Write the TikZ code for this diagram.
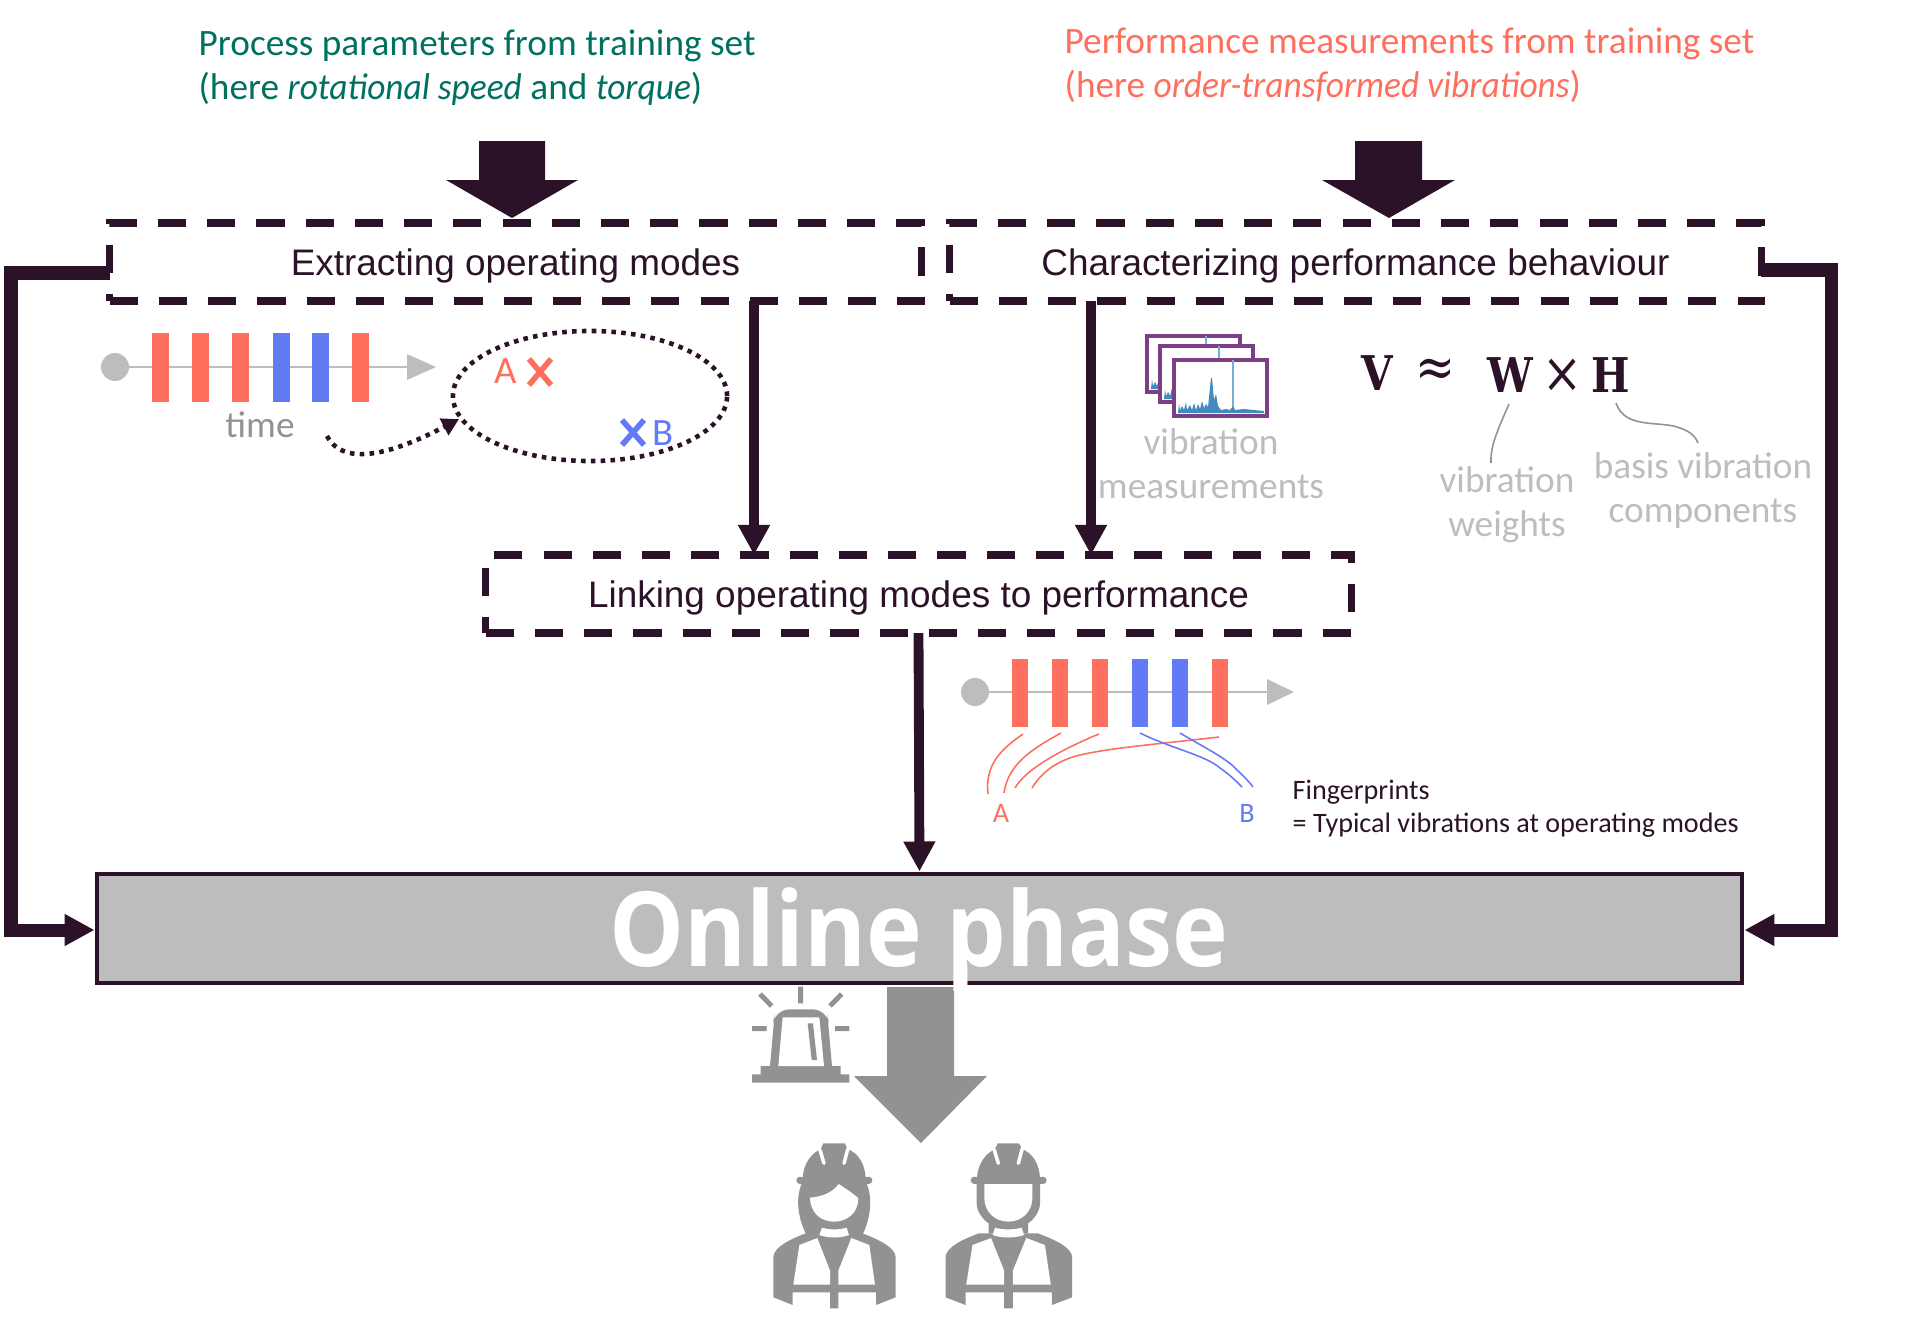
\documentclass[tikz,border=0pt]{standalone}
\usepackage{fontspec}
\setmainfont{Carlito}[ItalicFeatures={FakeStretch=0.95}]
\newfontfamily\boxfont{Liberation Sans}
\newfontfamily\onlinefont[FakeStretch=0.91]{Open Sans}
\newfontfamily\formfont[FakeStretch=0.85]{DejaVu Serif}
\usetikzlibrary{arrows.meta,positioning,shapes.geometric,calc}
\definecolor{darkPlum}{RGB}{44,18,41}
\definecolor{modeOrange}{RGB}{255,111,94}
\definecolor{modeBlue}{RGB}{98,123,245}
\definecolor{paramGreen}{RGB}{0,112,96}
\definecolor{softGrey}{RGB}{189,189,189}
\definecolor{midGrey}{RGB}{146,146,146}
\definecolor{framePurple}{RGB}{123,63,134}
\definecolor{specBlue}{RGB}{31,119,180}
\tikzset{
  stepbox/.style={
    rectangle, draw=darkPlum, line width=2.1pt, dash pattern=on 8pt off 6pt,
    text=darkPlum, align=center, inner sep=0pt, outer sep=0pt, text depth=0pt, font=\boxfont\fontsize{10.5}{13}\selectfont},
  onlinebox/.style={
    rectangle, draw=darkPlum, line width=1.4pt, fill=softGrey, inner sep=0pt},
  flowline/.style={-{Triangle[length=3mm,width=3mm]}, line width=2.8pt, draw=darkPlum},
  sideline/.style={flowline, line width=3.7pt},
  caption/.style={align=left, anchor=west, inner sep=0pt},
  greylabel/.style={align=center, text=softGrey, font=\fontsize{10.6}{12.5}\selectfont},
  bigarrow/.style={fill=darkPlum},
  mathsym/.style={text=darkPlum, inner sep=0pt, font=\formfont\bfseries\fontsize{13.6}{16}\selectfont},
  mathop/.style={text=darkPlum, inner sep=0pt, font=\formfont\fontsize{16}{18}\selectfont},
  thinlink/.style={draw=midGrey, line width=0.45pt},
  frame/.style={draw=framePurple, fill=white, line width=1pt},
  crossline/.style={line width=1.6pt},
  dotline/.style={draw=darkPlum, line width=1.3pt, dash pattern=on 1.3pt off 1.5pt},
  vestbody/.pic={
    \fill[midGrey] (-182,170) -- (-124,193) -- (-124,155) -- (-12,155) -- (-12,203) -- (13,203) -- (13,155)
      -- (126,155) -- (126,193) -- (185,170) -- (185,50) .. controls (185,20) and (130,-5) .. (85,-22)
      -- (-85,-22) .. controls (-130,-5) and (-182,20) .. (-182,50) -- cycle;
    \fill[white] (-104,13) -- (-50,-8) -- (-12,90) -- (-12,132) -- (-122,132) -- cycle;
    \fill[white] (106,13) -- (52,-8) -- (13,90) -- (13,132) -- (123,132) -- cycle;
  },
  hardhat/.pic={
    \fill[midGrey] (-94,-180) .. controls (-94,-235) and (-60,-265) .. (-40,-272)
      -- (-32,-290) -- (32,-290) -- (42,-272) .. controls (70,-262) and (95,-230) .. (95,-180) -- cycle;
    \fill[midGrey] (-100,-190) rectangle (102,-168);
    \fill[midGrey] (-102,-179) circle (11) (104,-179) circle (11);
    \draw[white, line width=1pt, line cap=round] (-42,-270) -- (-30,-230) (42,-275) -- (30,-230);
  }
}
\begin{document}
\begin{tikzpicture}[x=0.01cm,y=-0.01cm]
  \useasboundingbox (0,0) rectangle (1920,1324);

  % headings
  \node[caption, text=paramGreen, font=\fontsize{10.6}{12.6}\selectfont] (paramtext) at (198,67.5)
    {Process parameters from training set\\(here \textit{rotational speed} and \textit{torque})};
  \node[caption, text=modeOrange, font=\fontsize{10.6}{12.6}\selectfont] (perftext) at (1064,65)
    {Performance measurements from training set\\(here \textit{order-transformed vibrations})};

  % boxes
  \node[stepbox, minimum width=8.11cm, minimum height=0.78cm] (modes) at (515.5,262) {Extracting operating modes};
  \node[stepbox, minimum width=8.11cm, minimum height=0.78cm] (perf) at (1355.5,262) {Characterizing performance behaviour};
  \node[stepbox, minimum width=8.65cm, minimum height=0.78cm] (link) at (918.5,594) {Linking operating modes to performance};
  \node[onlinebox, minimum width=16.44cm, minimum height=1.09cm] (online) at (919.5,928.5) {};

  % big arrows
  \fill[bigarrow] (479,141) -- (545,141) -- (545,180) -- (578,180) -- (512,218) -- (446,180) -- (479,180) -- cycle;
  \fill[bigarrow] (1355,141) -- (1422,141) -- (1422,180) -- (1455,180) -- (1389,218) -- (1322,180) -- (1355,180) -- cycle;

  % connectors
  \coordinate (modesout) at (modes.west |- 0,273);
  \coordinate (perfout) at (perf.east |- 0,270);
  \draw[sideline] (modesout) -- (11,273) -- (11,930) -- (online.west |- 0,930);
  \draw[sideline] (perfout) -- (1831,270) -- (1831,930) -- (online.east |- 0,930);
  \draw[flowline] (modes.south -| 754,0) -- (link.north -| 754,0);
  \draw[flowline] (perf.south -| 1091,0) -- (link.north -| 1091,0);
  \draw[flowline] (link.south) -- (online.north);

  % first timeline
  \draw[softGrey, line width=0.8pt] (115,367) -- (410,367);
  \fill[softGrey] (115,367) circle (14);
  \fill[softGrey] (407,354) -- (436,367) -- (407,380) -- cycle;
  \foreach \px/\col in {160.5/modeOrange,200.5/modeOrange,240/modeOrange,281/modeBlue,320.5/modeBlue,360/modeOrange}
    \fill[\col] (\px-8.5,333) rectangle (\px+8.5,402);
  \node[text=midGrey, font=\fontsize{10.6}{12}\selectfont] (timetext) at (260,425) {time};

  % operating modes
  \node[ellipse, dotline, minimum width=2.74cm, minimum height=1.3cm] (cloud) at (590,396) {};
  \coordinate (timeout) at (327,436);
  \draw[dotline, {}-{Triangle[length=1.7mm,width=1.8mm,sep=0pt]}]
    (timeout) .. controls (345,470) and (400,450) .. (cloud.190);
  \node[text=modeOrange, font=\fontsize{11}{13}\selectfont] (labA) at (506,371) {A};
  \draw[modeOrange, crossline] (529,359) -- (551,385) (551,359) -- (529,385);
  \draw[modeBlue, crossline] (622,420) -- (644,445) (644,420) -- (622,445);
  \node[text=modeBlue, font=\fontsize{11}{13}\selectfont] (labB) at (663,433) {B};

  % spectra
  \foreach \fx/\fy in {1147/336,1160/346,1174/360}{
    \begin{scope}[shift={(\fx,\fy)}]
      \draw[frame] (0,0) rectangle (93,56);
      \draw[specBlue!60, line width=0.3pt] (59,0) -- (59,52);
      \fill[specBlue!85] (4,53) -- (5,44) -- (6,50) -- (8,46) -- (10,50) -- (12,42) -- (13,50) -- (16,45) -- (18,50) -- (20,43) -- (22,50)
        -- (24,44) -- (26,49) -- (28,41) -- (30,48) -- (32,44) -- (34,47) -- (37,18) -- (38,18) -- (40,40) -- (42,34) -- (44,46)
        -- (47,50) -- (52,49) -- (56,50) -- (59,46) -- (61,50) -- (70,49) -- (80,50) -- (90,51) -- (90,53) -- cycle;
    \end{scope}
  }

  % text under spectra
  \node[greylabel] (measure) at (1211,464) {vibration\\measurements};

  % formula
  \node[mathsym] (sv) at (1377,373) {V};
  \node[mathop] (sa) at (1436,373) {≈};
  \node[mathsym] (sw) at (1510,375) {W};
  \node[mathop] (sx) at (1563,376) {×};
  \node[mathsym] (sh) at (1611,375) {H};
  \node[greylabel] (wlabel) at (1507,505) {vibration\\weights};
  \node[greylabel] (hlabel) at (1703,491) {basis vibration\\components};
  \draw[thinlink] (1509,404) .. controls (1500,425) and (1490,445) .. (1491,463);
  \draw[thinlink] (1616,403) .. controls (1625,430) and (1660,420) .. (1680,428) .. controls (1692,432) and (1696,438) .. (1698,443);

  % second timeline
  \draw[softGrey, line width=0.8pt] (975,692) -- (1270,692);
  \fill[softGrey] (975,692) circle (14);
  \fill[softGrey] (1267,679) -- (1294,692) -- (1267,705) -- cycle;
  \foreach \px/\col in {1020/modeOrange,1060/modeOrange,1100/modeOrange,1140/modeBlue,1180/modeBlue,1220/modeOrange}
    \fill[\col] (\px-8,659) rectangle (\px+8,727);

  % fingerprints
  \draw[modeOrange, line width=0.45pt] (1023,734) .. controls (1000,750) and (985,765) .. (988,794);
  \draw[modeOrange, line width=0.45pt] (1061,733) .. controls (1030,750) and (1008,765) .. (1004,793);
  \draw[modeOrange, line width=0.45pt] (1099,734) .. controls (1060,750) and (1025,770) .. (1015,788);
  \draw[modeOrange, line width=0.45pt] (1219,737) .. controls (1150,745) and (1085,750) .. (1065,760) .. controls (1048,767) and (1038,778) .. (1032,788);
  \draw[modeBlue, line width=0.45pt] (1140,733) .. controls (1170,748) and (1205,755) .. (1220,768) .. controls (1230,775) and (1235,780) .. (1242,787);
  \draw[modeBlue, line width=0.45pt] (1180,733) .. controls (1200,745) and (1220,755) .. (1232,765) .. controls (1240,773) and (1248,780) .. (1253,787);
  \node[text=modeOrange, font=\fontsize{8}{9}\selectfont] (fpA) at (1001,813) {A};
  \node[text=modeBlue, font=\fontsize{8}{9}\selectfont] (fpB) at (1247,813) {B};
  \node[caption, text=darkPlum, font=\fontsize{8}{9.4}\selectfont] (fptext) at (1292,809)
    {Fingerprints\\= Typical vibrations at operating modes};

  % output arrow
  \fill[midGrey] (887,987) -- (954,987) -- (954,1076) -- (987,1076) -- (921,1143) -- (854,1076) -- (887,1076) -- cycle;

  % online label
  \node[text=white, inner sep=0pt, anchor=base, font=\onlinefont\bfseries\fontsize{29.5}{32}\selectfont] (onlinetext) at (919,966) {Online phase};

  % alarm
  \begin{scope}[shift={(720,960)},scale=1/3]
    \fill[midGrey] (150,318) -- (164,160) [rounded corners=4pt] -- (166,148) -- (320,148) [sharp corners] -- (322,160) -- (336,318) -- (362,318) -- (362,343) -- (388,343) -- (388,368)
      -- (96,368) -- (96,343) -- (122,343) -- (122,318) -- cycle;
    \fill[white] (175,318) -- (188,172) -- (298,172) -- (312,318) -- cycle;
    \fill[midGrey] (263,190) -- (279,190) -- (291,300) -- (275,300) -- cycle;
    \draw[midGrey, line width=1.4pt] (242,80) -- (242,130) (120,102) -- (155,138) (365,102) -- (330,138)
      (96,206) -- (140,206) (345,206) -- (388,206);
  \end{scope}

  % people
  \begin{scope}[shift={(720,960)},scale=1/3]
    % woman
    \fill[midGrey] (245,670) .. controls (225,720) and (235,780) .. (262,830) -- (425,830) .. controls (450,780) and (460,720) .. (440,670) -- cycle;
    \pic[transform shape] at (342,842) {vestbody};
    \fill[white] (270,713) .. controls (310,710) and (340,695) .. (356,672) .. controls (375,685) and (400,700) .. (415,715)
      .. controls (415,760) and (380,785) .. (342,785) .. controls (300,785) and (270,755) .. (270,713) -- cycle;
    \fill[white] (306,803) .. controls (330,810) and (355,810) .. (380,803) -- (387,825) .. controls (360,835) and (325,835) .. (298,825) -- cycle;
    \pic[transform shape] at (342,840) {hardhat};
    % man
    \fill[midGrey] (770,665) -- (770,730) .. controls (770,755) and (790,780) .. (806,790) -- (806,820) -- (924,820) -- (924,790) .. controls (940,780) and (960,755) .. (960,730) -- (960,665) -- cycle;
    \pic[transform shape, xscale=1.035] at (865,842) {vestbody};
    \fill[white] (793,672) -- (793,715) .. controls (793,755) and (825,785) .. (865,785) .. controls (905,785) and (937,755) .. (937,715) -- (937,672) -- cycle;
    \fill[white] (825,803) .. controls (850,810) and (880,810) .. (905,803) -- (912,825) .. controls (885,835) and (845,835) .. (818,825) -- cycle;
    \pic[transform shape] at (865,840) {hardhat};
  \end{scope}
\end{tikzpicture}
\end{document}
